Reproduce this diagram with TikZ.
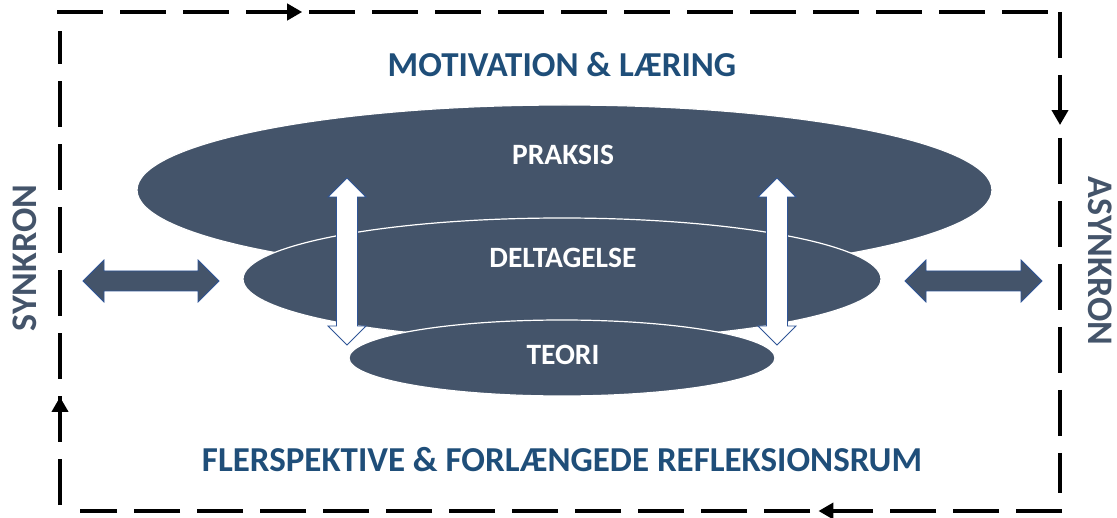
\documentclass[tikz,border=0pt]{standalone}
\usepackage{fontspec}
\setmainfont{Carlito}
\usetikzlibrary{arrows.meta,decorations.markings,shapes.geometric}
\definecolor{slate}{HTML}{44546A}
\definecolor{navy}{HTML}{1F4E79}
\definecolor{rim}{HTML}{2F5597}
\tikzset{
  frame/.style={line width=4.5pt, dash pattern=on 46pt off 17pt, line cap=butt},
  flowmark/.style={postaction={decorate}, decoration={markings,
      mark=at position #1 with {\arrow{Triangle[length=15pt,width=16pt]}}}},
  disc/.style={ellipse, fill=slate, draw=white, line width=1.2pt, inner sep=0pt},
  disclabel/.style={text=white, font=\bfseries\fontsize{29.5}{34}\selectfont},
  headline/.style={text=navy, font=\bfseries\fontsize{35}{40}\selectfont},
  sidelabel/.style={text=slate, font=\bfseries\fontsize{36}{40}\selectfont},
  % double-headed block arrow: total length / shaft half-height / head half-height / head length
  pics/dblarrow/.style args={#1/#2/#3/#4}{code={
    \path[pic actions] (-#1/2,0) -- (-#1/2+#4,#3) -- (-#1/2+#4,#2) -- (#1/2-#4,#2)
      -- (#1/2-#4,#3) -- (#1/2,0) -- (#1/2-#4,-#3) -- (#1/2-#4,-#2)
      -- (-#1/2+#4,-#2) -- (-#1/2+#4,-#3) -- cycle;
  }},
  solidarrow/.style={fill=slate, draw=rim, line width=0.8pt},
  hollowarrow/.style={fill=white, draw=rim, line width=0.8pt},
}
\begin{document}
\begin{tikzpicture}[x=1pt,y=-1pt]
\useasboundingbox (0,0) rectangle (1117,518);

% dashed cycle around the whole model
\coordinate (tl) at (57,12);
\coordinate (tr) at (1062,12);
\coordinate (rt) at (1060,12);
\coordinate (rb) at (1060,493);
\coordinate (br) at (1062,511);
\coordinate (bl) at (80,511);
\coordinate (lb) at (60,505);
\coordinate (lt) at (60,31);
\draw[frame, flowmark=0.244] (tl) -- (tr);
\draw[frame, flowmark=0.235] (rt) -- (rb);
\draw[frame, flowmark=0.248] (br) -- (bl);
\draw[frame, flowmark=0.228] (lb) -- (lt);

% stacked layers
\node[disc, minimum width=855pt, minimum height=170pt] (praksis) at (564.5,190) {};
\node[disc, minimum width=638pt, minimum height=122pt] (deltagelse) at (562,279) {};
\node[disc, minimum width=426pt, minimum height=76pt] (teori) at (562,358) {};

\node[disclabel] (lpraksis) at (563,155) {PRAKSIS};
\node[disclabel] (ldeltagelse) at (563,258) {DELTAGELSE};
\node[disclabel] (lteori) at (563,355) {TEORI};

% vertical exchange arrows
\pic[hollowarrow, rotate=90] (upl) at (347,261.5) {dblarrow=167/10.5/19/19};
\pic[hollowarrow, rotate=90] (upr) at (777,261.5) {dblarrow=167/10.5/19/19};

% horizontal links to the sides
\pic[solidarrow] (sidel) at (151,281) {dblarrow=136/10/21/21};
\pic[solidarrow] (sider) at (973.5,281) {dblarrow=137/10/21/21};

% headings
\node[headline] (top) at (562,65) {MOTIVATION \& LÆRING};
\node[headline] (bottom) at (562,460) {FLERSPEKTIVE \& FORLÆNGEDE REFLEKSIONSRUM};
\node[sidelabel, rotate=90] (synk) at (25,258) {SYNKRON};
\node[sidelabel, rotate=-90] (asynk) at (1100,261) {ASYNKRON};
\end{tikzpicture}
\end{document}
